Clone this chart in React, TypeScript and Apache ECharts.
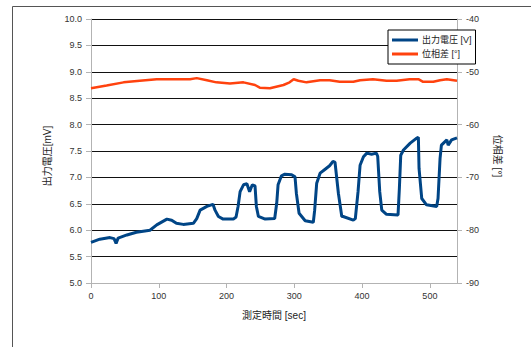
import React, { useEffect, useRef } from "react";
import * as echarts from "echarts";

// 出力電圧 [mV] vs 測定時間 [sec]
const voltTime = [0, 13, 28, 34, 37, 40, 53, 67, 87, 97, 112, 119, 126, 136, 151, 156, 161, 171, 180, 183, 188, 195, 210, 214, 217, 220, 225, 230, 234, 238, 242, 244, 247, 257, 271, 274, 276, 281, 286, 296, 301, 303, 307, 316, 328, 330, 333, 338, 345, 352, 357, 360, 365, 370, 372, 387, 390, 394, 397, 402, 407, 414, 421, 423, 426, 429, 436, 453, 455, 457, 461, 471, 480, 483, 484, 488, 495, 510, 512, 515, 517, 525, 527, 532, 540];
const voltValue = [5.77, 5.83, 5.86, 5.84, 5.75, 5.85, 5.91, 5.96, 6.0, 6.1, 6.21, 6.19, 6.13, 6.11, 6.13, 6.22, 6.38, 6.45, 6.49, 6.38, 6.26, 6.21, 6.21, 6.25, 6.45, 6.73, 6.86, 6.88, 6.73, 6.86, 6.84, 6.45, 6.26, 6.21, 6.22, 6.51, 6.86, 7.03, 7.06, 7.05, 7.01, 6.7, 6.32, 6.18, 6.15, 6.38, 6.89, 7.08, 7.15, 7.22, 7.3, 7.29, 6.7, 6.26, 6.26, 6.19, 6.22, 6.73, 7.23, 7.39, 7.46, 7.44, 7.46, 7.4, 6.73, 6.38, 6.3, 6.29, 6.8, 7.42, 7.52, 7.65, 7.74, 7.76, 7.17, 6.6, 6.48, 6.45, 6.6, 7.36, 7.61, 7.71, 7.61, 7.71, 7.75];

// 位相差 [°] vs 測定時間 [sec]
const phaseTime = [0, 23, 48, 72, 97, 121, 146, 156, 171, 185, 205, 225, 242, 249, 264, 284, 293, 299, 306, 318, 338, 352, 367, 387, 397, 416, 436, 451, 470, 483, 490, 505, 515, 525, 540];
const phaseValue = [-53.1, -52.6, -52.0, -51.7, -51.4, -51.4, -51.4, -51.2, -51.6, -52.0, -52.2, -52.0, -52.5, -53.0, -53.1, -52.5, -52.0, -51.4, -51.7, -52.0, -51.6, -51.6, -51.9, -51.9, -51.6, -51.4, -51.7, -51.7, -51.4, -51.4, -51.9, -51.9, -51.6, -51.4, -51.7];

const seriesNames = ["出力電圧 [V]", "位相差 [°]"];
const axisNames = { x: "測定時間 [sec]", left: "出力電圧[mV]", right: "位相差 [°]" };

const FONT = '"Liberation Sans", "Noto Sans CJK JP", sans-serif';

export default function App() {
  const ref = useRef<HTMLDivElement>(null);
  useEffect(() => {
    document.body.style.margin = "0";
    if (!ref.current) return;
    const chart = echarts.init(ref.current, null, { renderer: "svg" });
    const labelStyle = { fontSize: 9, color: "#333", fontFamily: FONT };
    const nameStyle = { fontSize: 10, color: "#222", fontFamily: FONT };
    chart.setOption({
      animation: false,
      backgroundColor: "#fff",
      textStyle: { fontFamily: FONT },
      grid: { left: 91, right: 74, top: 19, bottom: 64, containLabel: false },
      graphic: [
        {
          type: "rect",
          shape: { x: 12.5, y: 6.5, width: 1000, height: 1000 },
          style: { fill: "none", stroke: "#555", lineWidth: 1 },
          z: -10,
          silent: true,
        },
      ],
      legend: {
        orient: "vertical",
        left: 388,
        top: 30,
        width: 88,
        padding: [3, 4, 3, 4],
        itemGap: 0,
        itemWidth: 26,
        itemHeight: 3,
        icon: "rect",
        backgroundColor: "#fff",
        borderColor: "#000",
        borderWidth: 1,
        borderRadius: 0,
        textStyle: { fontSize: 9, color: "#222", fontFamily: FONT, lineHeight: 14, padding: [0, 0, 0, -1] },
        data: seriesNames,
        z: 10,
      },
      xAxis: {
        type: "value",
        min: 0,
        max: 540,
        interval: 100,
        name: axisNames.x,
        nameLocation: "middle",
        nameGap: 27,
        nameTextStyle: nameStyle,
        axisLine: { show: true, lineStyle: { color: "#b3b3b3", width: 1 } },
        axisTick: { show: true, length: 5, lineStyle: { color: "#b3b3b3" } },
        axisLabel: { ...labelStyle, margin: 8, showMaxLabel: false },
        splitLine: { show: false },
      },
      yAxis: [
        {
          type: "value",
          min: 5,
          max: 10,
          interval: 0.5,
          position: "left",
          name: axisNames.left,
          nameLocation: "middle",
          nameGap: 39,
          nameRotate: 90,
          nameTextStyle: { ...nameStyle, padding: [0, 10, 0, 0] },
          axisLine: { show: true, lineStyle: { color: "#b3b3b3", width: 1 } },
          axisTick: { show: true, length: 5, lineStyle: { color: "#b3b3b3" } },
          axisLabel: { ...labelStyle, margin: 9, formatter: (v: number) => v.toFixed(1) },
          splitLine: { show: true, lineStyle: { color: "#111", width: 1 } },
        },
        {
          type: "value",
          min: -90,
          max: -40,
          interval: 10,
          position: "right",
          name: axisNames.right,
          nameLocation: "middle",
          nameGap: 36,
          nameRotate: -90,
          nameTextStyle: { ...nameStyle, padding: [0, 0, 0, 10] },
          axisLine: { show: true, lineStyle: { color: "#b3b3b3", width: 1 } },
          axisTick: { show: true, length: 5, lineStyle: { color: "#b3b3b3" } },
          axisLabel: { ...labelStyle, margin: 9 },
          splitLine: { show: false },
        },
      ],
      series: [
        {
          name: seriesNames[0],
          type: "line",
          yAxisIndex: 0,
          symbol: "none",
          data: voltTime.map((t, i) => [t, voltValue[i]]),
          lineStyle: { color: "#004586", width: 3 },
          itemStyle: { color: "#004586" },
        },
        {
          name: seriesNames[1],
          type: "line",
          yAxisIndex: 1,
          symbol: "none",
          data: phaseTime.map((t, i) => [t, phaseValue[i]]),
          lineStyle: { color: "#ff420e", width: 2.5 },
          itemStyle: { color: "#ff420e" },
        },
      ],
    });
    return () => chart.dispose();
  }, []);
  return <div ref={ref} style={{ width: 531, height: 347 }} />;
}
